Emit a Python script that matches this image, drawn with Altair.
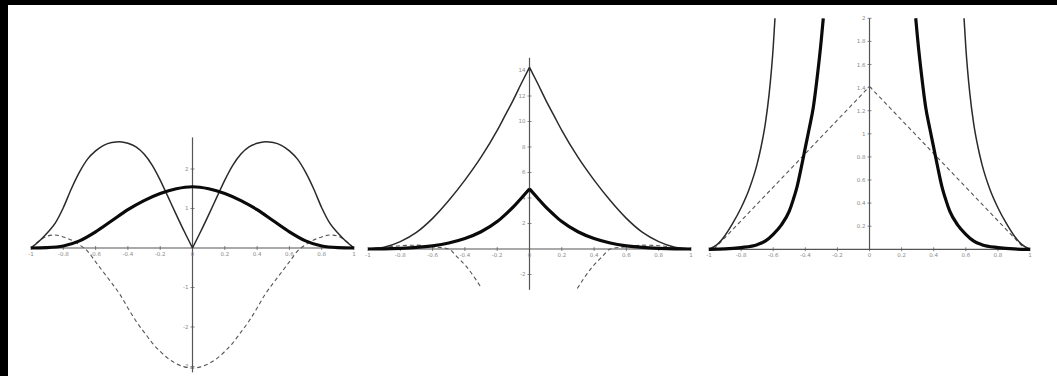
import altair as alt
import pandas as pd

# ---------------- panel 1: bump, |slope| and curvature ----------------
P1_THIN_LX = [-1, -0.95, -0.9, -0.85, -0.8, -0.75, -0.7, -0.65, -0.6, -0.55, -0.5,
              -0.45, -0.4, -0.35, -0.3, -0.25, -0.2, -0.15, -0.1, -0.05, 0]
P1_THIN_LY = [0, 0.17, 0.38, 0.63, 1.02, 1.50, 1.92, 2.25, 2.46, 2.60, 2.67,
              2.69, 2.65, 2.56, 2.38, 2.10, 1.72, 1.28, 0.84, 0.41, 0]
P1_THIN_RX = [0, 0.05, 0.1, 0.15, 0.2, 0.25, 0.3, 0.35, 0.4, 0.45, 0.5,
              0.55, 0.6, 0.65, 0.7, 0.75, 0.8, 0.85, 0.9, 0.95, 1]
P1_THIN_RY = [0, 0.41, 0.84, 1.28, 1.72, 2.10, 2.38, 2.56, 2.65, 2.69, 2.67,
              2.60, 2.46, 2.25, 1.92, 1.50, 1.02, 0.63, 0.38, 0.17, 0]

P1_THICK_X = [-1, -0.9, -0.8, -0.7, -0.6, -0.5, -0.4, -0.3, -0.2, -0.1, 0,
              0.1, 0.2, 0.3, 0.4, 0.5, 0.6, 0.7, 0.8, 0.9, 1]
P1_THICK_Y = [0, 0.01, 0.05, 0.18, 0.41, 0.69, 0.97, 1.20, 1.38, 1.50, 1.55,
              1.50, 1.38, 1.20, 0.97, 0.69, 0.41, 0.18, 0.05, 0.01, 0]

P1_DASH_X = [-1, -0.95, -0.9, -0.85, -0.8, -0.75, -0.7, -0.65, -0.6, -0.55, -0.5,
             -0.45, -0.4, -0.35, -0.3, -0.25, -0.2, -0.15, -0.1, -0.05, 0,
             0.05, 0.1, 0.15, 0.2, 0.25, 0.3, 0.35, 0.4, 0.45, 0.5,
             0.55, 0.6, 0.65, 0.7, 0.75, 0.8, 0.85, 0.9, 0.95, 1]
P1_DASH_Y = [0, 0.18, 0.30, 0.33, 0.28, 0.20, 0.08, -0.08, -0.35, -0.62, -0.89,
             -1.17, -1.52, -1.85, -2.13, -2.40, -2.62, -2.80, -2.93, -3.01, -3.04,
             -3.01, -2.93, -2.80, -2.62, -2.40, -2.13, -1.85, -1.52, -1.17, -0.89,
             -0.62, -0.35, -0.08, 0.08, 0.20, 0.28, 0.33, 0.30, 0.18, 0]

P1_XTICKS = [-1, -0.8, -0.6, -0.4, -0.2, 0, 0.2, 0.4, 0.6, 0.8, 1]
P1_XLABELS = ["-1", "-0.8", "-0.6", "-0.4", "-0.2", "0", "0.2", "0.4", "0.6", "0.8", "1"]
P1_YTICKS = [-3, -2, -1, 1, 2]
P1_YLABELS = ["-3", "-2", "-1", "1", "2"]

# ---------------- panel 2: cusp profile ----------------
P2_THIN_LX = [-1, -0.9, -0.8, -0.7, -0.6, -0.5, -0.4, -0.3, -0.2, -0.15, -0.1, -0.05, 0]
P2_THIN_LY = [0, 0.14, 0.58, 1.30, 2.40, 3.80, 5.40, 7.20, 9.30, 10.50, 11.70, 13.00, 14.25]
P2_THIN_RX = [0, 0.05, 0.1, 0.15, 0.2, 0.3, 0.4, 0.5, 0.6, 0.7, 0.8, 0.9, 1]
P2_THIN_RY = [14.25, 13.00, 11.70, 10.50, 9.30, 7.20, 5.40, 3.80, 2.40, 1.30, 0.58, 0.14, 0]

P2_THICK_LX = [-1, -0.9, -0.8, -0.7, -0.6, -0.5, -0.4, -0.3, -0.2, -0.15, -0.1, -0.05, 0]
P2_THICK_LY = [0, 0.01, 0.05, 0.12, 0.25, 0.47, 0.82, 1.35, 2.15, 2.70, 3.30, 4.00, 4.72]
P2_THICK_RX = [0, 0.05, 0.1, 0.15, 0.2, 0.3, 0.4, 0.5, 0.6, 0.7, 0.8, 0.9, 1]
P2_THICK_RY = [4.72, 4.00, 3.30, 2.70, 2.15, 1.35, 0.82, 0.47, 0.25, 0.12, 0.05, 0.01, 0]

P2_DASH_LX = [-1, -0.9, -0.8, -0.7, -0.6, -0.5, -0.45, -0.39, -0.337, -0.296]
P2_DASH_LY = [0, 0.12, 0.26, 0.30, 0.18, 0, -0.60, -1.39, -2.30, -3.10]
P2_DASH_RX = [0.296, 0.337, 0.39, 0.45, 0.5, 0.6, 0.7, 0.8, 0.9, 1]
P2_DASH_RY = [-3.10, -2.30, -1.39, -0.60, 0, 0.18, 0.30, 0.26, 0.12, 0]

P2_XTICKS = P1_XTICKS
P2_XLABELS = P1_XLABELS
P2_YTICKS = [-2, 2, 4, 6, 8, 10, 12, 14]
P2_YLABELS = ["-2", "2", "4", "6", "8", "10", "12", "14"]

# ---------------- panel 3: steep tails and tent ----------------
P3_THICK_LX = [-1, -0.9, -0.8, -0.7, -0.65, -0.6, -0.55, -0.5, -0.475, -0.45,
               -0.425, -0.4, -0.375, -0.35, -0.325, -0.3, -0.288]
P3_THICK_LY = [0, 0.003, 0.015, 0.04, 0.07, 0.13, 0.21, 0.33, 0.43, 0.55,
               0.71, 0.88, 1.05, 1.23, 1.50, 1.82, 2.0]
P3_THICK_RX = [0.288, 0.3, 0.325, 0.35, 0.375, 0.4, 0.425, 0.45, 0.475, 0.5,
               0.55, 0.6, 0.65, 0.7, 0.8, 0.9, 1]
P3_THICK_RY = [2.0, 1.82, 1.50, 1.23, 1.05, 0.88, 0.71, 0.55, 0.43, 0.33,
               0.21, 0.13, 0.07, 0.04, 0.015, 0.003, 0]

P3_THIN_LX = [-1, -0.95, -0.9, -0.85, -0.8, -0.75, -0.7, -0.675, -0.65, -0.625, -0.6, -0.589]
P3_THIN_LY = [0, 0.04, 0.12, 0.23, 0.36, 0.52, 0.74, 0.89, 1.08, 1.35, 1.75, 2.0]
P3_THIN_RX = [0.589, 0.6, 0.625, 0.65, 0.675, 0.7, 0.75, 0.8, 0.85, 0.9, 0.95, 1]
P3_THIN_RY = [2.0, 1.75, 1.35, 1.08, 0.89, 0.74, 0.52, 0.36, 0.23, 0.12, 0.04, 0]

P3_DASH_LX = [-0.97, 0]
P3_DASH_LY = [0, 1.41]
P3_DASH_RX = [0, 0.97]
P3_DASH_RY = [1.41, 0]

P3_XTICKS = P1_XTICKS
P3_XLABELS = P1_XLABELS
P3_YTICKS = [0.2, 0.4, 0.6, 0.8, 1, 1.2, 1.4, 1.6, 1.8, 2]
P3_YLABELS = ["0.2", "0.4", "0.6", "0.8", "1", "1.2", "1.4", "1.6", "1.8", "2"]

# ---------------- styles ----------------
THIN = dict(color="#2a2a2a", strokeWidth=1.5)
THICK = dict(color="#0a0a0a", strokeWidth=3.2)
DASH = dict(color="#555555", strokeWidth=1.1, strokeDash=[4, 3])
AXIS_COLOR = "#555555"
LABEL_COLOR = "#8a8a8a"


def scales(xdom, ydom):
    sx = alt.Scale(domain=xdom, nice=False, zero=False)
    sy = alt.Scale(domain=ydom, nice=False, zero=False)
    return sx, sy


def curve(xs, ys, style, sx, sy):
    df = pd.DataFrame({"x": xs, "y": ys})
    return alt.Chart(df).mark_line(clip=True, interpolate="monotone", **style).encode(
        x=alt.X("x:Q", scale=sx, axis=None),
        y=alt.Y("y:Q", scale=sy, axis=None),
    )


def axes(sx, sy, xr, yr, xticks, xlabels, yticks, ylabels):
    xline = alt.Chart(pd.DataFrame({"x": [xr[0]], "x2": [xr[1]], "y": [0]})).mark_rule(
        color=AXIS_COLOR, strokeWidth=1.2
    ).encode(
        x=alt.X("x:Q", scale=sx, axis=None), x2="x2:Q",
        y=alt.Y("y:Q", scale=sy, axis=None),
    )
    yline = alt.Chart(pd.DataFrame({"x": [0], "y": [yr[0]], "y2": [yr[1]]})).mark_rule(
        color=AXIS_COLOR, strokeWidth=1.2
    ).encode(
        x=alt.X("x:Q", scale=sx, axis=None),
        y=alt.Y("y:Q", scale=sy, axis=None), y2="y2:Q",
    )
    xdf = pd.DataFrame({"x": xticks, "y": [0] * len(xticks), "t": xlabels})
    xtick_marks = alt.Chart(xdf).mark_tick(
        orient="vertical", color=AXIS_COLOR, size=4, thickness=1
    ).encode(
        x=alt.X("x:Q", scale=sx, axis=None), y=alt.Y("y:Q", scale=sy, axis=None)
    )
    xtick_text = alt.Chart(xdf).mark_text(
        fontSize=5.5, color=LABEL_COLOR, baseline="top", dy=4, font="DejaVu Sans"
    ).encode(
        x=alt.X("x:Q", scale=sx, axis=None), y=alt.Y("y:Q", scale=sy, axis=None), text="t:N"
    )
    ydf = pd.DataFrame({"x": [0] * len(yticks), "y": yticks, "t": ylabels})
    ytick_marks = alt.Chart(ydf).mark_tick(
        orient="horizontal", color=AXIS_COLOR, size=4, thickness=1
    ).encode(
        x=alt.X("x:Q", scale=sx, axis=None), y=alt.Y("y:Q", scale=sy, axis=None)
    )
    ytick_text = alt.Chart(ydf).mark_text(
        fontSize=5.5, color=LABEL_COLOR, align="right", baseline="middle", dx=-4,
        font="DejaVu Sans"
    ).encode(
        x=alt.X("x:Q", scale=sx, axis=None), y=alt.Y("y:Q", scale=sy, axis=None), text="t:N"
    )
    return [xline, yline, xtick_marks, xtick_text, ytick_marks, ytick_text]


# panel 1
sx1, sy1 = scales([-1.1424, 1.0433], [-3.241, 6.152])
panel1 = alt.layer(
    *axes(sx1, sy1, (-1, 1), (-3.15, 2.8), P1_XTICKS, P1_XLABELS, P1_YTICKS, P1_YLABELS),
    curve(P1_DASH_X, P1_DASH_Y, DASH, sx1, sy1),
    curve(P1_THIN_LX, P1_THIN_LY, THIN, sx1, sy1),
    curve(P1_THIN_RX, P1_THIN_RY, THIN, sx1, sy1),
    curve(P1_THICK_X, P1_THICK_Y, THICK, sx1, sy1),
).properties(width=353, height=371)

# panel 2
sx2, sy2 = scales([-1.0433, 1.0557], [-9.961, 19.137])
panel2 = alt.layer(
    *axes(sx2, sy2, (-1, 1), (-3.2, 15.0), P2_XTICKS, P2_XLABELS, P2_YTICKS, P2_YLABELS),
    curve(P2_DASH_LX, P2_DASH_LY, DASH, sx2, sy2),
    curve(P2_DASH_RX, P2_DASH_RY, DASH, sx2, sy2),
    curve(P2_THIN_LX, P2_THIN_LY, THIN, sx2, sy2),
    curve(P2_THIN_RX, P2_THIN_RY, THIN, sx2, sy2),
    curve(P2_THICK_LX, P2_THICK_LY, THICK, sx2, sy2),
    curve(P2_THICK_RX, P2_THICK_RY, THICK, sx2, sy2),
).properties(width=339, height=371)

# panel 3
sx3, sy3 = scales([-1.0561, 1.1682], [-1.097, 2.1152])
panel3 = alt.layer(
    *axes(sx3, sy3, (-1, 1), (0, 2.0), P3_XTICKS, P3_XLABELS, P3_YTICKS, P3_YLABELS),
    curve(P3_DASH_LX, P3_DASH_LY, DASH, sx3, sy3),
    curve(P3_DASH_RX, P3_DASH_RY, DASH, sx3, sy3),
    curve(P3_THIN_LX, P3_THIN_LY, THIN, sx3, sy3),
    curve(P3_THIN_RX, P3_THIN_RY, THIN, sx3, sy3),
    curve(P3_THICK_LX, P3_THICK_LY, THICK, sx3, sy3),
    curve(P3_THICK_RX, P3_THICK_RY, THICK, sx3, sy3),
).properties(width=357, height=371)

chart = alt.hconcat(panel1, panel2, panel3, spacing=0).resolve_scale(
    x="independent", y="independent"
).properties(
    background="black",
    padding={"left": 8, "top": 5, "right": 0, "bottom": 0},
).configure_view(
    fill="white", stroke=None
)

chart.save("out.html", embed_options={"renderer": "svg", "actions": False})
